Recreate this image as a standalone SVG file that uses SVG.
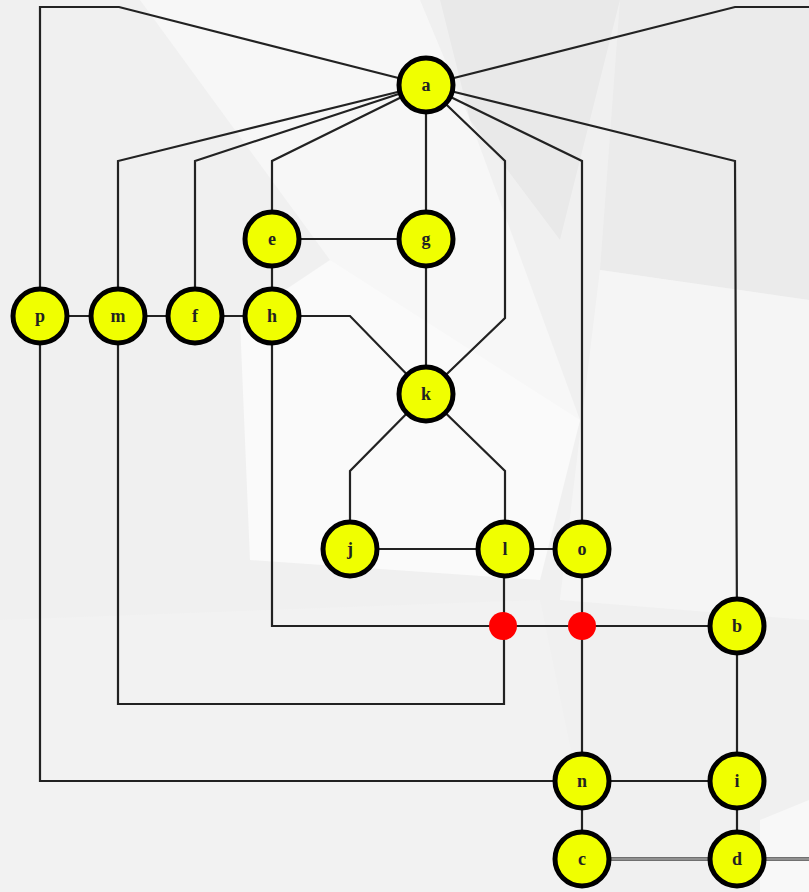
<svg xmlns="http://www.w3.org/2000/svg" width="809" height="892" viewBox="0 0 809 892">
<style>
.e{fill:none;stroke:#222;stroke-width:2.2;stroke-linejoin:miter}
.n circle{fill:#f0ff00;stroke:#000;stroke-width:5}
.n text{font-family:"Liberation Serif","DejaVu Serif",serif;font-size:18px;font-weight:bold;fill:#222;text-anchor:middle;dominant-baseline:central}
.j{fill:#ff0000}
</style>
<g id="background">
<rect width="809" height="892" fill="#f0f0f0"/>
<polygon points="140,0 420,0 470,120 580,420 540,560 330,260" fill="#f7f7f7"/>
<polygon points="440,0 620,0 560,240 470,120" fill="#e9e9e9"/>
<polygon points="330,260 580,420 540,580 250,560 240,320" fill="#fafafa"/>
<polygon points="620,0 809,0 809,300 600,270" fill="#ebebeb"/>
<polygon points="600,270 809,300 809,620 560,600" fill="#f5f5f5"/>
<polygon points="0,620 540,600 600,892 0,892" fill="#f2f2f2"/>
<polygon points="760,820 809,800 809,892 760,892" fill="#f8f8f8"/>
</g>
<g id="connectors">
<polyline class="e" points="426,85 119,7 40,7 40,316"/>
<polyline class="e" points="426,85 735,7 809,7"/>
<polyline class="e" points="426,85 118,161 118,316"/>
<polyline class="e" points="426,85 195,161 195,316"/>
<polyline class="e" points="426,85 272,161 272,239"/>
<line class="e" x1="426" y1="85" x2="426" y2="239"/>
<polyline class="e" points="426,85 505,161 505,318 426,394"/>
<polyline class="e" points="426,85 582,161 582,549"/>
<polyline class="e" points="426,85 735,161 737,626"/>
<line class="e" x1="272" y1="239" x2="426" y2="239"/>
<line class="e" x1="272" y1="239" x2="272" y2="316"/>
<line class="e" x1="426" y1="239" x2="426" y2="394"/>
<line class="e" x1="40" y1="316" x2="272" y2="316"/>
<polyline class="e" points="272,316 350,316 426,394"/>
<polyline class="e" points="426,394 350,471 350,549"/>
<polyline class="e" points="426,394 505,471 505,549"/>
<line class="e" x1="350" y1="549" x2="582" y2="549"/>
<polyline class="e" points="272,316 272,626 737,626"/>
<polyline class="e" points="118,316 118,704 504,704 504,549"/>
<line class="e" x1="582" y1="549" x2="582" y2="781"/>
<polyline class="e" points="40,316 40,781 582,781"/>
<line class="e" x1="582" y1="781" x2="737" y2="781"/>
<line class="e" x1="737" y1="626" x2="737" y2="781"/>
<line class="e" x1="582" y1="781" x2="582" y2="859"/>
<line class="e" x1="737" y1="781" x2="737" y2="859"/>
<line class="e" x1="582" y1="859" x2="809" y2="859" style="stroke:#444;stroke-width:3.5"/>
<line x1="582" y1="859" x2="809" y2="859" stroke="#dcdcdc" stroke-width="1.2"/>
<circle class="j" cx="503" cy="626" r="14"/>
<circle class="j" cx="582" cy="626" r="14"/>
</g>
<g id="a" class="n"><circle cx="426" cy="85" r="27"/><text x="426" y="85">a</text></g>
<g id="e" class="n"><circle cx="272" cy="239" r="27"/><text x="272" y="239">e</text></g>
<g id="g" class="n"><circle cx="426" cy="239" r="27"/><text x="426" y="239">g</text></g>
<g id="p" class="n"><circle cx="40" cy="316" r="27"/><text x="40" y="316">p</text></g>
<g id="m" class="n"><circle cx="118" cy="316" r="27"/><text x="118" y="316">m</text></g>
<g id="f" class="n"><circle cx="195" cy="316" r="27"/><text x="195" y="316">f</text></g>
<g id="h" class="n"><circle cx="272" cy="316" r="27"/><text x="272" y="316">h</text></g>
<g id="k" class="n"><circle cx="426" cy="394" r="27"/><text x="426" y="394">k</text></g>
<g id="j" class="n"><circle cx="350" cy="549" r="27"/><text x="350" y="549">j</text></g>
<g id="l" class="n"><circle cx="505" cy="549" r="27"/><text x="505" y="549">l</text></g>
<g id="o" class="n"><circle cx="582" cy="549" r="27"/><text x="582" y="549">o</text></g>
<g id="b" class="n"><circle cx="737" cy="626" r="27"/><text x="737" y="626">b</text></g>
<g id="n" class="n"><circle cx="582" cy="781" r="27"/><text x="582" y="781">n</text></g>
<g id="i" class="n"><circle cx="737" cy="781" r="27"/><text x="737" y="781">i</text></g>
<g id="c" class="n"><circle cx="582" cy="859" r="27"/><text x="582" y="859">c</text></g>
<g id="d" class="n"><circle cx="737" cy="859" r="27"/><text x="737" y="859">d</text></g>
</svg>
